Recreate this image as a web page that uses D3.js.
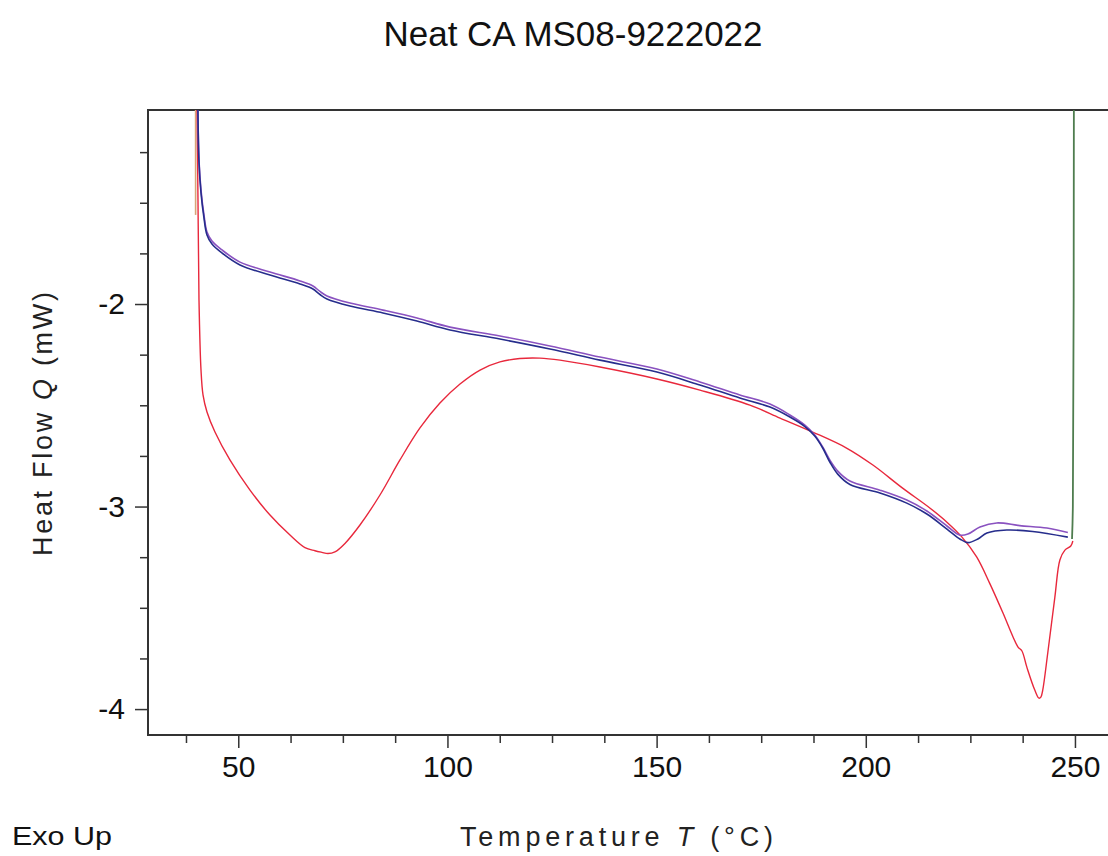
<!DOCTYPE html>
<html>
<head>
<meta charset="utf-8">
<script src="https://cdn.jsdelivr.net/npm/d3@7"></script>
<style>
  html, body { margin: 0; padding: 0; background: #fff; }
  svg { display: block; font-family: "Liberation Sans", Arial, sans-serif; }
</style>
</head>
<body>
<svg id="chart" width="1108" height="856"></svg>
<script>
// DSC run of neat CA, heat flow (mW) vs temperature (°C)
const title = 'Neat CA MS08-9222022'

// cycle 1 heating (red)
const redT = [40.1, 40.37, 40.61, 41.09, 41.57, 42.52, 44.43, 48.0, 52.8, 57.58, 62.36, 65.94, 68.33, 70.0, 71.44, 73.1, 75.5, 79.09, 83.87, 88.65, 93.43, 98.2, 103.0, 107.8, 112.55, 117.3, 122.1, 126.9, 136.45, 150.07, 160.35, 172.3, 179.5, 187.3, 195.4, 201.7, 208.8, 215.3, 219.4, 223.0, 226.5, 229.6, 232.8, 235.2, 236.4, 237.3, 238.5, 240.4, 241.4, 241.85, 242.3, 243.5, 245.2, 246.4, 247.6, 249.0, 249.5]
const redQ = [-0.95, -1.486, -1.98, -2.326, -2.449, -2.533, -2.632, -2.770, -2.919, -3.042, -3.141, -3.203, -3.218, -3.226, -3.232, -3.224, -3.182, -3.091, -2.943, -2.770, -2.612, -2.489, -2.395, -2.326, -2.286, -2.269, -2.267, -2.277, -2.311, -2.370, -2.425, -2.499, -2.563, -2.632, -2.711, -2.795, -2.909, -3.007, -3.077, -3.151, -3.249, -3.378, -3.526, -3.644, -3.694, -3.712, -3.793, -3.906, -3.946, -3.941, -3.906, -3.723, -3.447, -3.264, -3.215, -3.195, -3.170]

// later heating (purple)
const purpleT = [40.3, 40.61, 41.09, 41.80, 42.52, 43.71, 46.10, 50.41, 57.58, 64.75, 67.85, 69.53, 71.2, 76.70, 84.59, 92.71, 100.6, 112.55, 124.5, 136.45, 150.07, 160.35, 169.9, 177.1, 181.85, 185.44, 187.8, 189.7, 191.4, 193.3, 196.2, 203.4, 209.8, 214.6, 219.4, 222.5, 224.4, 227.3, 231.3, 236.8, 243.3, 248.3]
const purpleQ = [-0.95, -1.29, -1.437, -1.56, -1.644, -1.689, -1.733, -1.793, -1.842, -1.886, -1.911, -1.938, -1.960, -1.995, -2.030, -2.069, -2.114, -2.158, -2.207, -2.262, -2.321, -2.385, -2.449, -2.494, -2.548, -2.598, -2.647, -2.706, -2.770, -2.825, -2.874, -2.919, -2.968, -3.022, -3.096, -3.141, -3.136, -3.101, -3.081, -3.094, -3.106, -3.128]

// later heating (blue)
const blueT = [40.3, 40.61, 41.09, 41.80, 42.52, 43.71, 46.10, 50.41, 57.58, 64.75, 67.85, 69.53, 71.2, 76.70, 84.59, 92.71, 100.6, 112.55, 124.5, 136.45, 150.07, 160.35, 169.9, 177.1, 181.85, 185.44, 187.8, 189.7, 191.4, 193.3, 196.2, 203.4, 209.8, 214.6, 219.4, 222.5, 224.4, 226.8, 228.95, 233.7, 239.9, 248.3]
const blueQ = [-0.95, -1.30, -1.452, -1.575, -1.659, -1.704, -1.748, -1.807, -1.857, -1.901, -1.926, -1.953, -1.975, -2.010, -2.044, -2.084, -2.128, -2.173, -2.222, -2.277, -2.336, -2.400, -2.464, -2.509, -2.558, -2.605, -2.652, -2.711, -2.780, -2.840, -2.891, -2.933, -2.983, -3.037, -3.111, -3.160, -3.178, -3.160, -3.131, -3.116, -3.123, -3.151]

// isothermal / cooling jumps
const greenT = [249.3, 249.5, 249.75]
const greenQ = [-3.16, -3.0, -0.9]
const tanT = [39.8, 39.8]
const tanQ = [-0.95, -1.56]

const xMajor = [50, 100, 150, 200, 250]
const xMinor = [37.5, 62.5, 75, 87.5, 112.5, 125, 137.5, 162.5, 175, 187.5, 212.5, 225, 237.5]
const yMajor = [-4, -3, -2]
const yMinor = [-3.75, -3.5, -3.25, -2.75, -2.5, -2.25, -1.75, -1.5, -1.25]

const svg = d3.select('#chart')
const plotLeft = 148, plotRight = 1108, plotTop = 110, plotBottom = 735

const x = d3.scaleLinear().domain([28.42, 257.9]).range([plotLeft, plotRight])
const y = d3.scaleLinear().domain([-4.128, -1.042]).range([plotBottom, plotTop])

const zip = (ts, qs) => ts.map((t, i) => ({ t, q: qs[i] }))

svg.append('defs').append('clipPath').attr('id', 'plot-clip')
  .append('rect')
  .attr('x', plotLeft).attr('y', plotTop)
  .attr('width', plotRight - plotLeft).attr('height', plotBottom - plotTop)

// axes: minor ticks first, then major with labels
const xAxisMinor = d3.axisBottom(x).tickValues(xMinor).tickSize(8).tickFormat('')
const xAxisMajor = d3.axisBottom(x).tickValues(xMajor).tickSize(13).tickPadding(8).tickFormat(d3.format('d'))
const yAxisMinor = d3.axisLeft(y).tickValues(yMinor).tickSize(8).tickFormat('')
const yAxisMajor = d3.axisLeft(y).tickValues(yMajor).tickSize(13).tickPadding(10).tickFormat(d => d)

function styleAxis(g) {
  g.select('.domain').remove()
  g.selectAll('.tick line').attr('stroke', '#333').attr('stroke-width', 1.5)
  g.selectAll('.tick text')
    .attr('fill', '#111')
    .style('font-size', '30px')
    .style('font-family', '"Liberation Sans", Arial, sans-serif')
}

svg.append('g').attr('transform', `translate(0,${plotBottom})`).call(xAxisMinor).call(styleAxis)
svg.append('g').attr('transform', `translate(0,${plotBottom})`).call(xAxisMajor).call(styleAxis)
svg.append('g').attr('transform', `translate(${plotLeft},0)`).call(yAxisMinor).call(styleAxis)
svg.append('g').attr('transform', `translate(${plotLeft},0)`).call(yAxisMajor).call(styleAxis)

// frame (top, left, bottom; right side runs off the image)
svg.append('path')
  .attr('d', `M${plotRight},${plotTop}H${plotLeft}V${plotBottom}H${plotRight}`)
  .attr('fill', 'none')
  .attr('stroke', '#333')
  .attr('stroke-width', 2)

const line = d3.line()
  .x(d => x(d.t))
  .y(d => y(d.q))
  .curve(d3.curveCatmullRom.alpha(0.5))

const plot = svg.append('g').attr('clip-path', 'url(#plot-clip)')

const series = [
  { data: zip(tanT, tanQ), color: '#d9a477', width: 1.6 },
  { data: zip(redT, redQ), color: '#e8283c', width: 1.4 },
  { data: zip(purpleT, purpleQ), color: '#8a52c0', width: 1.6 },
  { data: zip(blueT, blueQ), color: '#262d8c', width: 1.6 },
  { data: zip(greenT, greenQ), color: '#4f7d4f', width: 1.8 },
]

plot.selectAll('path.series')
  .data(series)
  .join('path')
  .attr('class', 'series')
  .attr('d', d => line(d.data))
  .attr('fill', 'none')
  .attr('stroke', d => d.color)
  .attr('stroke-width', d => d.width)
  .attr('stroke-linejoin', 'round')

// titles
svg.append('text')
  .attr('x', 573).attr('y', 46)
  .attr('text-anchor', 'middle')
  .attr('fill', '#111')
  .attr('textLength', 379)
  .attr('lengthAdjust', 'spacingAndGlyphs')
  .style('font-size', '35px')
  .text(title)

const xTitle = svg.append('text')
  .attr('x', 460).attr('y', 846)
  .attr('fill', '#222')
  .attr('textLength', 313)
  .attr('lengthAdjust', 'spacing')
  .style('font-size', '27px')
xTitle.append('tspan').text('Temperature ')
xTitle.append('tspan').style('font-style', 'italic').text('T')
xTitle.append('tspan').text(' (°C)')

const yTitle = svg.append('text')
  .attr('transform', 'translate(52,556) rotate(-90)')
  .attr('fill', '#222')
  .attr('textLength', 264)
  .attr('lengthAdjust', 'spacing')
  .style('font-size', '27px')
yTitle.append('tspan').text('Heat Flow ')
yTitle.append('tspan').style('font-style', 'italic').text('Q')
yTitle.append('tspan').text(' (mW)')

svg.append('text')
  .attr('x', 12).attr('y', 845)
  .attr('fill', '#111')
  .attr('textLength', 100)
  .attr('lengthAdjust', 'spacingAndGlyphs')
  .style('font-size', '26px')
  .text('Exo Up')
</script>
</body>
</html>
